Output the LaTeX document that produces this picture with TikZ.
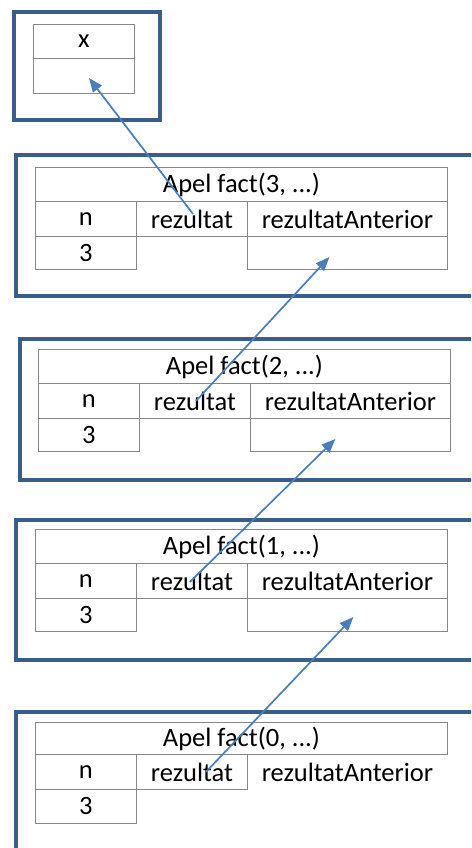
\documentclass[tikz,border=0pt]{standalone}
\usepackage{fontspec}
\setmainfont{Carlito}
\usetikzlibrary{arrows.meta}
\definecolor{framec}{RGB}{58,94,138}
\definecolor{arrowc}{RGB}{74,126,187}
\definecolor{cellc}{RGB}{135,135,135}
\tikzset{
  frm/.style={draw=framec,line width=3.6pt},
  cell/.style={draw=cellc,line width=0.9pt,inner sep=0pt,anchor=north west,
    font=\fontsize{26.5}{30}\selectfont},
  blank/.style={cell,draw=none},
  link/.style={draw=arrowc,line width=1.7pt,-{Triangle[length=14pt,width=11pt]}}
}
% #1 prefix, #2 table left x, #3 table top y (positive down), #4 digit
\newcommand{\callframe}[4]{%
  \node[cell,minimum width=412pt,minimum height=34pt] (#1t) at (#2,-#3) {Apel fact(#4, ...)};
  \node[cell,minimum width=101pt,minimum height=35pt] (#1n) at (#2,-#3-34) {n};
  \node[cell,minimum width=111pt,minimum height=35pt] (#1r) at (#2+101,-#3-34) {rezultat};
  \node[cell,minimum width=200pt,minimum height=35pt] (#1a) at (#2+212,-#3-34) {rezultatAnterior};
  \node[cell,minimum width=101pt,minimum height=33pt] (#1nv) at (#2,-#3-69) {3};
  \node[blank,minimum width=111pt,minimum height=33pt] (#1rv) at (#2+101,-#3-69) {};
  \node[cell,minimum width=200pt,minimum height=33pt] (#1av) at (#2+212,-#3-69) {};
}
\begin{document}
\begin{tikzpicture}[x=1pt,y=1pt]
\useasboundingbox (0,0) rectangle (471,-848);
\clip (0,0) rectangle (471,-848);
% top box
\draw[frm] (14,-12) rectangle (160,-120);
\node[cell,minimum width=101pt,minimum height=34pt] (xh) at (33,-24) {x};
\node[cell,minimum width=101pt,minimum height=35pt] (xv) at (33,-58) {};
% frame 1
\draw[frm] (16,-155) rectangle (480,-296);
\callframe{a}{35}{167}{3}
% frame 2
\draw[frm] (20,-339) rectangle (480,-480);
\callframe{b}{38}{349}{2}
% frame 3
\draw[frm] (16,-520) rectangle (480,-660);
\callframe{c}{35}{529}{1}
% frame 4
\draw[frm] (16,-712) rectangle (480,-860);
\node[cell,minimum width=412pt,minimum height=32pt] (dt) at (35,-722) {Apel fact(0, ...)};
\node[cell,minimum width=101pt,minimum height=35pt] (dn) at (35,-754) {n};
\node[cell,minimum width=111pt,minimum height=35pt] (dr) at (136,-754) {rezultat};
\node[blank,minimum width=200pt,minimum height=35pt] (da) at (247,-754) {rezultatAnterior};
\node[cell,minimum width=101pt,minimum height=34pt] (dnv) at (35,-789) {3};
% arrow anchors
\coordinate (s1) at ([shift={(1pt,5pt)}]ar.center);
\coordinate (e1) at ([shift={(5pt,-2pt)}]xv.center);
\coordinate (s2) at ([shift={(1pt,0pt)}]br.center);
\coordinate (e2) at ([shift={(-18pt,-4pt)}]aav.center);
\coordinate (s3) at ([shift={(-2pt,-1pt)}]cr.center);
\coordinate (e3) at ([shift={(-15pt,-4pt)}]bav.center);
\coordinate (s4) at ([shift={(14pt,0pt)}]dr.center);
\coordinate (e4) at ([shift={(6pt,-2pt)}]cav.center);
\draw[link] (s1) -- (e1);
\draw[link] (s2) -- (e2);
\draw[link] (s3) -- (e3);
\draw[link] (s4) -- (e4);
\end{tikzpicture}
\end{document}
